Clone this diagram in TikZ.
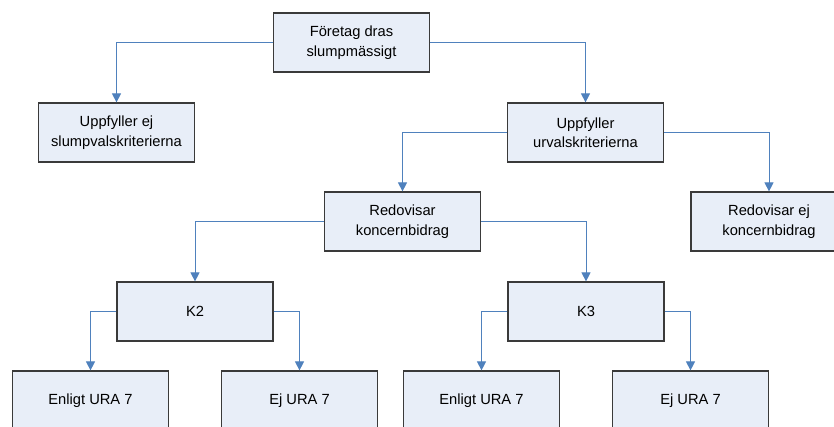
\documentclass[tikz,border=0pt]{standalone}
\usepackage{fontspec}
\setmainfont{Liberation Sans}
\usetikzlibrary{arrows.meta}
\definecolor{boxfill}{HTML}{E8EEF8}
\definecolor{boxline}{HTML}{3A3A3A}
\definecolor{conn}{HTML}{4F81BD}
\begin{document}
\begin{tikzpicture}[x=1pt,y=-1pt,
  box/.style={draw=boxline,line width=1.2pt,fill=boxfill,rectangle,
    minimum width=156pt,minimum height=59pt,inner sep=0pt,align=center,
    font=\fontsize{14.7}{19.5}\selectfont},
  link/.style={draw=conn,line width=1pt,-{Triangle[width=9pt,length=9pt]}}]
\useasboundingbox (0,0) rectangle (834,427);
\clip (0,0) rectangle (834,427);
\fill[white] (0,0) rectangle (834,427);
\node[box] (top) at (351.5,42.5) {Företag dras\\slumpmässigt};
\node[box] (ej) at (116.5,132.5) {Uppfyller ej\\slumpvalskriterierna};
\node[box] (urval) at (585.5,132.5) {Uppfyller\\urvalskriterierna};
\node[box] (red) at (402.5,221.5) {Redovisar\\koncernbidrag};
\node[box] (redej) at (769,221.5) {Redovisar ej\\koncernbidrag};
\node[box] (k2) at (195,311.5) {K2};
\node[box] (k3) at (586,311.5) {K3};
\node[box] (e1) at (90.5,400.5) {Enligt URA 7};
\node[box] (n1) at (299.5,400.5) {Ej URA 7};
\node[box] (e2) at (481.5,400.5) {Enligt URA 7};
\node[box] (n2) at (690.5,400.5) {Ej URA 7};
\draw[link] (top.west) -| (ej.north);
\draw[link] (top.east) -| (urval.north);
\draw[link] (urval.west) -| (red.north);
\draw[link] (urval.east) -| (redej.north);
\draw[link] (red.west) -| (k2.north);
\draw[link] (red.east) -| (k3.north);
\draw[link] (k2.west) -| (e1.north);
\draw[link] (k2.east) -| (n1.north);
\draw[link] (k3.west) -| (e2.north);
\draw[link] (k3.east) -| (n2.north);
\end{tikzpicture}
\end{document}
